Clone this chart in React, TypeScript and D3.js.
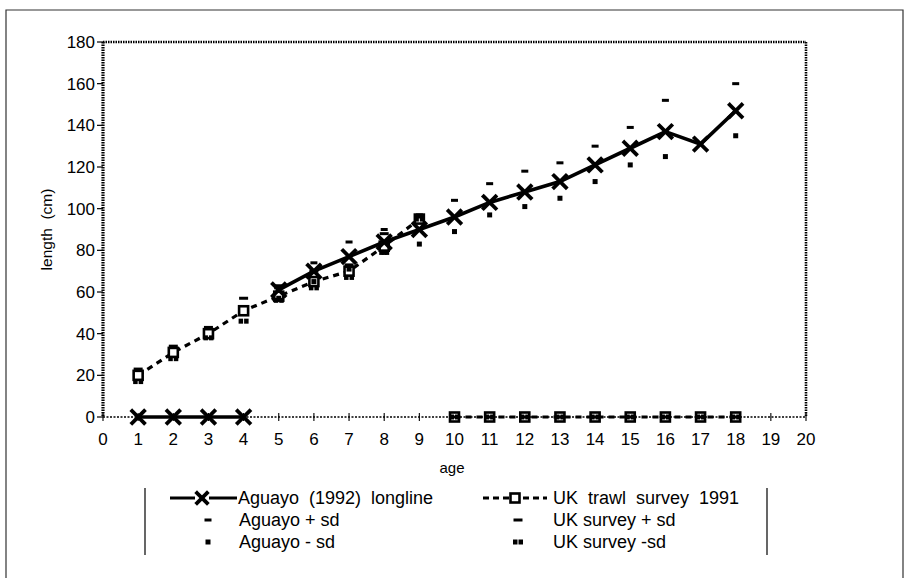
import React from "react";
import * as d3 from "d3";

const ages = [1, 2, 3, 4, 5, 6, 7, 8, 9, 10, 11, 12, 13, 14, 15, 16, 17, 18];
const aguayoMean = [0, 0, 0, 0, 61, 70, 77, 84, 90, 96, 103, 108, 113, 121, 129, 137, 131, 147];
const aguayoPlus: (number | null)[] = [null, null, null, null, 63, 74, 84, 90, 97, 104, 112, 118, 122, 130, 139, 152, null, 160];
const aguayoMinus: (number | null)[] = [null, null, null, null, 57, 65, 71, 79, 83, 89, 97, 101, 105, 113, 121, 125, null, 135];
const ukMean = [20, 31, 40, 51, 58, 65, 70, 82, 95, 0, 0, 0, 0, 0, 0, 0, 0, 0];
const ukPlus: (number | null)[] = [23, 34, 43, 57, 62, 70, 73, 88, 96, 0, 0, 0, 0, 0, 0, 0, 0, 0];
const ukMinus: (number | null)[] = [17, 28, 38, 46, 56, 62, 67, 79, 95, 0, 0, 0, 0, 0, 0, 0, 0, 0];
const xTicks = d3.range(0, 21);
const yTicks = [0, 20, 40, 60, 80, 100, 120, 140, 160, 180];

const FONT = "'Liberation Sans', Arial, Helvetica, sans-serif";

function runs(vals: number[]): [number, number][][] {
  const out: [number, number][][] = [];
  let cur: [number, number][] = [];
  let prevZero: boolean | null = null;
  vals.forEach((v, i) => {
    const z = v === 0;
    if (prevZero !== null && z !== prevZero) {
      out.push(cur);
      cur = [];
    }
    cur.push([ages[i], v]);
    prevZero = z;
  });
  if (cur.length) out.push(cur);
  return out;
}

const XMark = ({ cx, cy, s = 6 }: { cx: number; cy: number; s?: number }) => (
  <g stroke="#000" strokeWidth={3.8} strokeLinecap="square">
    <line x1={cx - s} y1={cy - s} x2={cx + s} y2={cy + s} />
    <line x1={cx - s} y1={cy + s} x2={cx + s} y2={cy - s} />
  </g>
);
const SqMark = ({ cx, cy }: { cx: number; cy: number }) => (
  <rect x={cx - 4.5} y={cy - 4.5} width={9} height={9} fill="#fff" stroke="#000" strokeWidth={2.6} />
);
const APlus = ({ cx, cy }: { cx: number; cy: number }) => (
  <rect x={cx - 3.5} y={cy - 1.5} width={7} height={3} fill="#000" />
);
const AMinus = ({ cx, cy }: { cx: number; cy: number }) => (
  <rect x={cx - 2.5} y={cy - 2.5} width={5} height={5} fill="#000" />
);
const UPlus = ({ cx, cy }: { cx: number; cy: number }) => (
  <rect x={cx - 4.5} y={cy - 1.5} width={9} height={3} fill="#000" />
);
const UMinus = ({ cx, cy }: { cx: number; cy: number }) => (
  <g fill="#000">
    <rect x={cx - 5} y={cy - 2.5} width={4.5} height={5} />
    <rect x={cx + 0.5} y={cy - 2.5} width={4.5} height={5} />
  </g>
);

export default function App() {
  const x = d3.scaleLinear().domain([0, 20]).range([103, 806]);
  const y = d3.scaleLinear().domain([0, 180]).range([417, 42]);
  const line = d3
    .line<[number, number]>()
    .x((d) => x(d[0]))
    .y((d) => y(d[1]));

  const aRuns = runs(aguayoMean);
  const uRuns = runs(ukMean);
  const pre = { whiteSpace: "pre" as const };

  return (
    <svg
      width={909}
      height={578}
      style={{ position: "absolute", left: 0, top: 0, background: "#fff" }}
      fontFamily={FONT}
    >
      <path d="M6,590 L6,10 L903,10 L903,590" fill="none" stroke="#333" strokeWidth={1.2} />

      <line x1={x(0)} y1={y(180)} x2={x(20)} y2={y(180)} stroke="#000" strokeWidth={2.6} strokeDasharray="1.5,1" />
      <line x1={x(20)} y1={y(180)} x2={x(20)} y2={y(0)} stroke="#000" strokeWidth={2.6} strokeDasharray="1.5,1" />
      <line x1={x(0)} y1={y(180)} x2={x(0)} y2={y(0)} stroke="#000" strokeWidth={3.2} strokeDasharray="1.5,1" />
      <line x1={x(0)} y1={y(0)} x2={x(20)} y2={y(0)} stroke="#000" strokeWidth={1.5} strokeDasharray="2,1.5" />

      {yTicks.map((t) => (
        <g key={"y" + t}>
          <line x1={x(0) - 6} x2={x(0)} y1={y(t)} y2={y(t)} stroke="#000" strokeWidth={1.2} />
          <text x={x(0) - 8} y={y(t)} dy="0.36em" textAnchor="end" fontSize={17}>
            {t}
          </text>
        </g>
      ))}
      {xTicks.map((t) => (
        <g key={"x" + t}>
          <line x1={x(t)} x2={x(t)} y1={y(0) - 4} y2={y(0) + 4} stroke="#000" strokeWidth={1.1} />
          <text x={x(t)} y={439} dy="0.36em" textAnchor="middle" fontSize={17}>
            {t}
          </text>
        </g>
      ))}

      <text x={452} y={468} dy="0.35em" textAnchor="middle" fontSize={15}>
        age
      </text>
      <text
        transform={`translate(47,${y(90)}) rotate(-90)`}
        textAnchor="middle"
        dy="0.35em"
        fontSize={15.5}
        style={pre}
      >
        length  (cm)
      </text>

      {uRuns.map((r, i) => (
        <path key={"ul" + i} d={line(r) || ""} fill="none" stroke="#000" strokeWidth={3.2} strokeDasharray="6,5" />
      ))}
      {aRuns.map((r, i) => (
        <path key={"al" + i} d={line(r) || ""} fill="none" stroke="#000" strokeWidth={3.6} />
      ))}

      {ukMean.map((v, i) => (
        <SqMark key={"us" + i} cx={x(ages[i])} cy={y(v)} />
      ))}
      {ukPlus.map((v, i) =>
        v === null ? null : <UPlus key={"up" + i} cx={x(ages[i])} cy={y(v)} />
      )}
      {ukMinus.map((v, i) =>
        v === null ? null : <UMinus key={"um" + i} cx={x(ages[i])} cy={y(v)} />
      )}
      {aguayoPlus.map((v, i) =>
        v === null ? null : <APlus key={"ap" + i} cx={x(ages[i])} cy={y(v)} />
      )}
      {aguayoMinus.map((v, i) =>
        v === null ? null : <AMinus key={"am" + i} cx={x(ages[i])} cy={y(v)} />
      )}
      {aguayoMean.map((v, i) => (
        <XMark key={"ax" + i} cx={x(ages[i])} cy={y(v)} />
      ))}

      <line x1={145} x2={145} y1={488} y2={555} stroke="#000" strokeWidth={1.2} />
      <line x1={767} x2={767} y1={488} y2={555} stroke="#000" strokeWidth={1.2} />

      <line x1={170} x2={237} y1={498} y2={498} stroke="#000" strokeWidth={3.2} />
      <rect x={195} y={490} width={14} height={16} fill="#fff" />
      <XMark cx={202} cy={498} s={5} />
      <text x={238} y={498} dy="0.36em" fontSize={18} style={pre}>
        Aguayo  (1992)  longline
      </text>
      <APlus cx={208} cy={520} />
      <text x={239} y={520} dy="0.36em" fontSize={18}>
        Aguayo + sd
      </text>
      <AMinus cx={208} cy={542} />
      <text x={239} y={542} dy="0.36em" fontSize={18}>
        Aguayo - sd
      </text>

      <line x1={483} x2={547} y1={498} y2={498} stroke="#000" strokeWidth={3.2} strokeDasharray="6,4" />
      <SqMark cx={515} cy={498} />
      <text x={553} y={498} dy="0.36em" fontSize={18} style={pre}>
        UK  trawl  survey  1991
      </text>
      <UPlus cx={518} cy={520} />
      <text x={553} y={520} dy="0.36em" fontSize={18}>
        UK survey + sd
      </text>
      <UMinus cx={518} cy={542} />
      <text x={553} y={542} dy="0.36em" fontSize={18}>
        UK survey -sd
      </text>
    </svg>
  );
}
